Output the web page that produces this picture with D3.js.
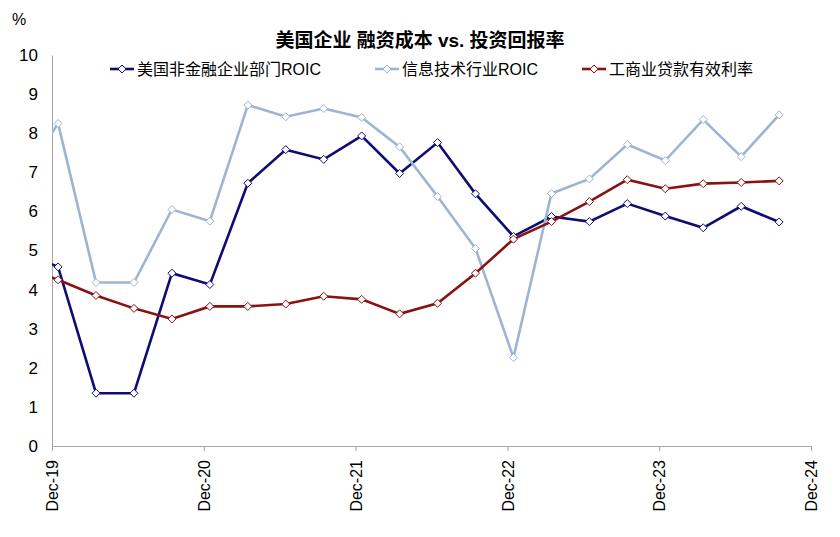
<!DOCTYPE html>
<html><head><meta charset="utf-8">
<script src="https://cdn.jsdelivr.net/npm/d3@7"></script>
<style>
body{margin:0;background:#fff;}
text{font-family:"Liberation Sans","Noto Sans CJK SC",sans-serif;}
</style></head>
<body><svg id="c" width="840" height="537"></svg>
<script>
const xTicks = ["Dec-19", "Dec-20", "Dec-21", "Dec-22", "Dec-23", "Dec-24"];
// quarterly values, the first (prior) point lies left of the plot and is clipped
const nonfinROIC = [5.0, 4.58, 1.35, 1.35, 4.42, 4.13, 6.72, 7.58, 7.33, 7.93, 6.97, 7.76, 6.45, 5.36, 5.87, 5.74, 6.2, 5.88, 5.58, 6.13, 5.73];
const techROIC = [6.7, 8.25, 4.18, 4.18, 6.05, 5.75, 8.72, 8.42, 8.63, 8.4, 7.65, 6.38, 5.05, 2.26, 6.46, 6.83, 7.71, 7.3, 8.35, 7.4, 8.47];
const loanRate = [4.6, 4.25, 3.85, 3.52, 3.25, 3.57, 3.57, 3.63, 3.83, 3.75, 3.38, 3.65, 4.42, 5.29, 5.74, 6.25, 6.81, 6.58, 6.71, 6.74, 6.78];
const yTicks = [0,1,2,3,4,5,6,7,8,9,10];

const series = [
  {name:"美国非金融企业部门ROIC", color:"#0d0d73", values:nonfinROIC},
  {name:"信息技术行业ROIC", color:"#9db5d3", values:techROIC},
  {name:"工商业贷款有效利率", color:"#8b1212", values:loanRate}
];

const svg = d3.select("#c");
const L = 52, R = 811, T = 55, B = 446;
const x = d3.scaleLinear().domain([0, 20]).range([L, R]);
const y = d3.scaleLinear().domain([0, 10]).range([B, T]);
const off = 0.16;

svg.append("defs").append("clipPath").attr("id","clip")
  .append("rect").attr("x", L).attr("y", 0).attr("width", R - L + 20).attr("height", 537);

svg.append("text").attr("x", 420).attr("y", 47).attr("text-anchor","middle")
  .attr("font-size", 19).attr("font-weight","bold").text("美国企业 融资成本 vs. 投资回报率");
svg.append("text").attr("x", 12).attr("y", 25).attr("font-size", 16).text("%");

// y axis
const ya = svg.append("g").attr("transform", `translate(${L},0)`)
  .call(d3.axisLeft(y).tickValues(yTicks).tickSize(0).tickPadding(14));
ya.select(".domain").attr("stroke","#a6a6a6");
ya.selectAll("text").attr("font-size", 17).attr("fill","#000")
  .attr("font-family","Liberation Sans, sans-serif");

// x axis
const xa = svg.append("g").attr("transform", `translate(0,${B})`)
  .call(d3.axisBottom(x).tickValues([0,4,8,12,16,20]).tickFormat((d,i) => xTicks[i]).tickSize(5));
xa.select(".domain").attr("stroke","#a6a6a6");
xa.selectAll("line").attr("stroke","#a6a6a6");
xa.selectAll("text").attr("font-size", 16).attr("fill","#000")
  .attr("font-family","Liberation Sans, sans-serif")
  .attr("transform","rotate(-90)").attr("text-anchor","end")
  .attr("dy","0.35em").attr("dx","-0.5em").attr("y", 0).attr("x", -6);

const line = d3.line().x((d,i) => x(i - 1 + off)).y(d => y(d));
const diamond = "M0,-4L4,0L0,4L-4,0Z";
const plot = svg.append("g").attr("clip-path","url(#clip)");
series.forEach(s => {
  plot.append("path").datum(s.values).attr("d", line).attr("fill","none")
    .attr("stroke", s.color).attr("stroke-width", 2.6);
});
series.forEach(s => {
  plot.selectAll(null).data(s.values.slice(1)).join("path")
    .attr("d", diamond)
    .attr("transform", (d,i) => `translate(${x(i + off)},${y(d)})`)
    .attr("fill","#fff").attr("stroke", s.color).attr("stroke-width", 1);
});

// legend
const legX = [110, 375, 582];
series.forEach((s, i) => {
  const g = svg.append("g").attr("transform", `translate(${legX[i]},69)`);
  g.append("line").attr("x1", 0).attr("x2", 24).attr("stroke", s.color).attr("stroke-width", 2.6);
  g.append("path").attr("d", diamond).attr("transform","translate(12,0)")
    .attr("fill","#fff").attr("stroke", s.color);
  g.append("text").attr("x", 27).attr("dy","0.35em").attr("font-size", 16).text(s.name);
});
</script></body></html>
